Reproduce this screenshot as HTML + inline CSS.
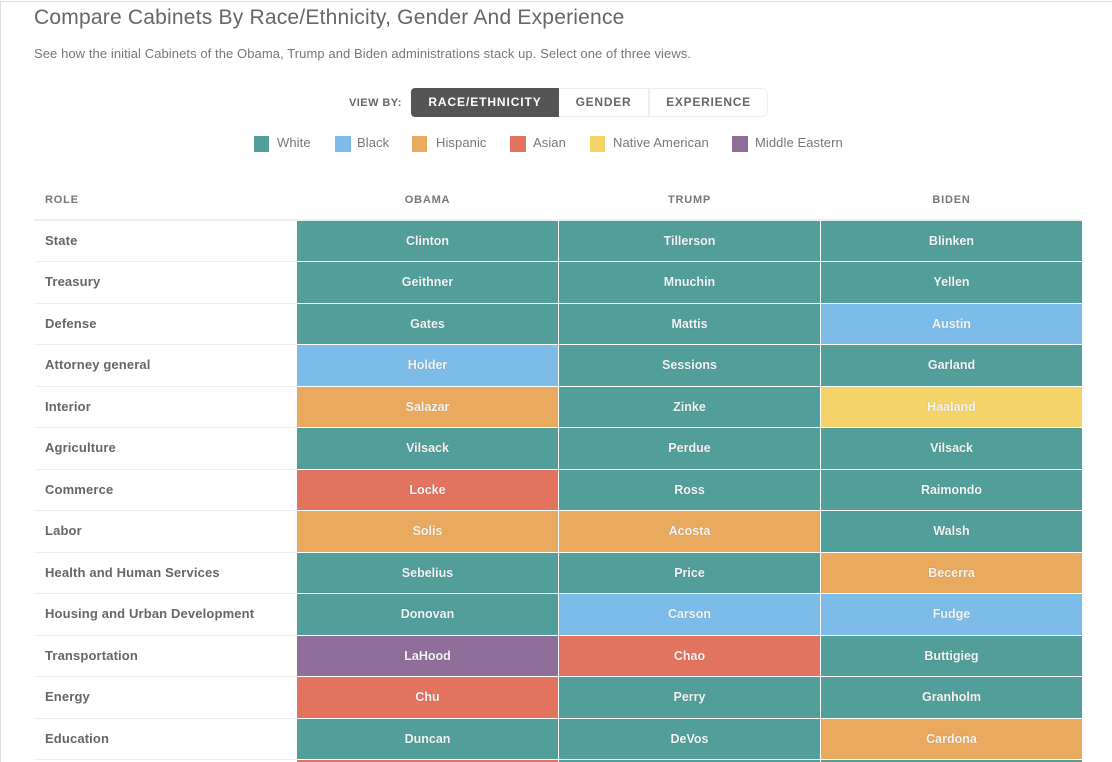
<!DOCTYPE html>
<html lang="en">
<head>
<meta charset="utf-8">
<title>Compare Cabinets</title>
<style>
html,body{margin:0;padding:0;background:#fff;width:1112px;height:762px;overflow:hidden}
body{position:relative;font-family:"Liberation Sans",sans-serif}
.abs{position:absolute;white-space:nowrap}
#frame-top{left:0;top:1px;width:1112px;height:1px;background:#dedede}
#frame-left{left:0;top:1px;width:1px;height:761px;background:#dedede}
#title{left:34px;top:5px;font-size:21px;line-height:26px;color:#666;letter-spacing:.21px}
#sub{left:34px;top:46px;font-size:13px;line-height:16px;color:#777;letter-spacing:.08px}
#viewby{left:349px;top:96px;font-size:11px;line-height:14px;font-weight:bold;color:#666;letter-spacing:.45px}
.btn{top:88px;height:29px;box-sizing:border-box;font-size:12px;line-height:27px;font-weight:bold;text-align:center;letter-spacing:.75px;color:#666;border:1px solid #eee;background:#fff}
#btn-race{left:411px;width:148px;background:#555;border-color:#555;color:#fff;border-radius:4px 0 0 4px;letter-spacing:.9px}
#btn-gender{left:559px;width:90px;border-left:0}
#btn-exp{left:649px;width:119px;border-left:1px solid #eee;border-radius:0 6px 6px 0}
.sw{top:136px;width:16px;height:16px}
.lg{top:135px;font-size:13px;line-height:16px;color:#777;letter-spacing:.08px}
.hd{top:193px;font-size:11px;line-height:14px;font-weight:bold;color:#777;letter-spacing:.8px}
.hc{text-align:center;width:261px}
#head-rule{left:34px;top:219px;width:1048px;height:2px;background:#eee}
#table{position:absolute;left:0;top:0;width:1112px;height:762px;overflow:hidden}
.role{left:45px;font-size:13px;line-height:16px;font-weight:bold;color:#666;letter-spacing:.14px}
.sep{left:34px;width:263px;height:1px;background:#eee}
.cell{width:261px;text-align:center;font-size:12.5px;font-weight:bold;color:#f4f4f4;text-shadow:0 0 1px rgba(0,0,0,.25);overflow:hidden}
</style>
</head>
<body>
<div class="abs" id="frame-top"></div>
<div class="abs" id="frame-left"></div>
<div class="abs" id="title">Compare Cabinets By Race/Ethnicity, Gender And Experience</div>
<div class="abs" id="sub">See how the initial Cabinets of the Obama, Trump and Biden administrations stack up. Select one of three views.</div>
<div class="abs" id="viewby">VIEW BY:</div>
<div class="abs btn" id="btn-race">RACE/ETHNICITY</div>
<div class="abs btn" id="btn-gender">GENDER</div>
<div class="abs btn" id="btn-exp">EXPERIENCE</div>

<div class="abs sw" style="left:254px;width:15px;background:#519e9b"></div>
<div class="abs lg" style="left:277px">White</div>
<div class="abs sw" style="left:335px;background:#7dbce8"></div>
<div class="abs lg" style="left:357px">Black</div>
<div class="abs sw" style="left:412px;width:15px;background:#e9a95f"></div>
<div class="abs lg" style="left:436px">Hispanic</div>
<div class="abs sw" style="left:510px;background:#e2735f"></div>
<div class="abs lg" style="left:533px">Asian</div>
<div class="abs sw" style="left:590px;width:15px;background:#f4d468"></div>
<div class="abs lg" style="left:613px">Native American</div>
<div class="abs sw" style="left:732px;background:#8f6f99"></div>
<div class="abs lg" style="left:755px">Middle Eastern</div>

<div class="abs hd" style="left:45px">ROLE</div>
<div class="abs hd hc" style="left:297px">OBAMA</div>
<div class="abs hd hc" style="left:559px">TRUMP</div>
<div class="abs hd hc" style="left:821px">BIDEN</div>
<div class="abs" id="head-rule"></div>
<div id="table"></div>

<script>
var roles = ["State","Treasury","Defense","Attorney general","Interior","Agriculture","Commerce","Labor","Health and Human Services","Housing and Urban Development","Transportation","Energy","Education","Veterans Affairs"];
var obamaNames = ["Clinton","Geithner","Gates","Holder","Salazar","Vilsack","Locke","Solis","Sebelius","Donovan","LaHood","Chu","Duncan","Shinseki"];
var trumpNames = ["Tillerson","Mnuchin","Mattis","Sessions","Zinke","Perdue","Ross","Acosta","Price","Carson","Chao","Perry","DeVos","Shulkin"];
var bidenNames = ["Blinken","Yellen","Austin","Garland","Haaland","Vilsack","Raimondo","Walsh","Becerra","Fudge","Buttigieg","Granholm","Cardona","McDonough"];
var obamaRace = ["White","White","White","Black","Hispanic","White","Asian","Hispanic","White","White","Middle Eastern","Asian","White","Asian"];
var trumpRace = ["White","White","White","White","White","White","White","Hispanic","White","Black","Asian","White","White","White"];
var bidenRace = ["White","White","Black","White","Native American","White","White","White","Hispanic","Black","White","White","Hispanic","White"];
var raceColors = {"White":"#519e9b","Black":"#7dbce8","Hispanic":"#e9a95f","Asian":"#e2735f","Native American":"#f4d468","Middle Eastern":"#8f6f99"};

var frameHeight = 762;
var table = document.getElementById('table');
function rowY(i){ return Math.floor(221 + i * 41.5); }
function columnX(c){ return 297 + c * 262; }
function slug(s){ return s.toLowerCase().replace(/[^a-z0-9]+/g,'-'); }

var columns = [
  {key:'obama', names:obamaNames, race:obamaRace},
  {key:'trump', names:trumpNames, race:trumpRace},
  {key:'biden', names:bidenNames, race:bidenRace}
];

roles.forEach(function(role, i){
  var top = rowY(i);
  var bottom = rowY(i + 1) - 1;
  var h = bottom - top;
  var fits = bottom < frameHeight;

  if (fits) {
    var label = document.createElement('div');
    label.className = 'abs role';
    label.style.top = (top + Math.floor(h / 2) - 8) + 'px';
    label.textContent = role;
    
    
    table.appendChild(label);

    var sep = document.createElement('div');
    sep.className = 'abs sep';
    sep.style.top = bottom + 'px';
    
    
    table.appendChild(sep);
  }

  columns.forEach(function(col, c){
    var cell = document.createElement('div');
    cell.className = 'abs cell';
    cell.style.left = columnX(c) + 'px';
    cell.style.top = top + 'px';
    cell.style.height = (fits ? h : frameHeight - top) + 'px';
    cell.style.lineHeight = h + 'px';
    cell.style.background = raceColors[col.race[i]];
    if (fits) { cell.textContent = col.names[i]; }
    
    
    table.appendChild(cell);
  });
});
</script>
</body>
</html>
